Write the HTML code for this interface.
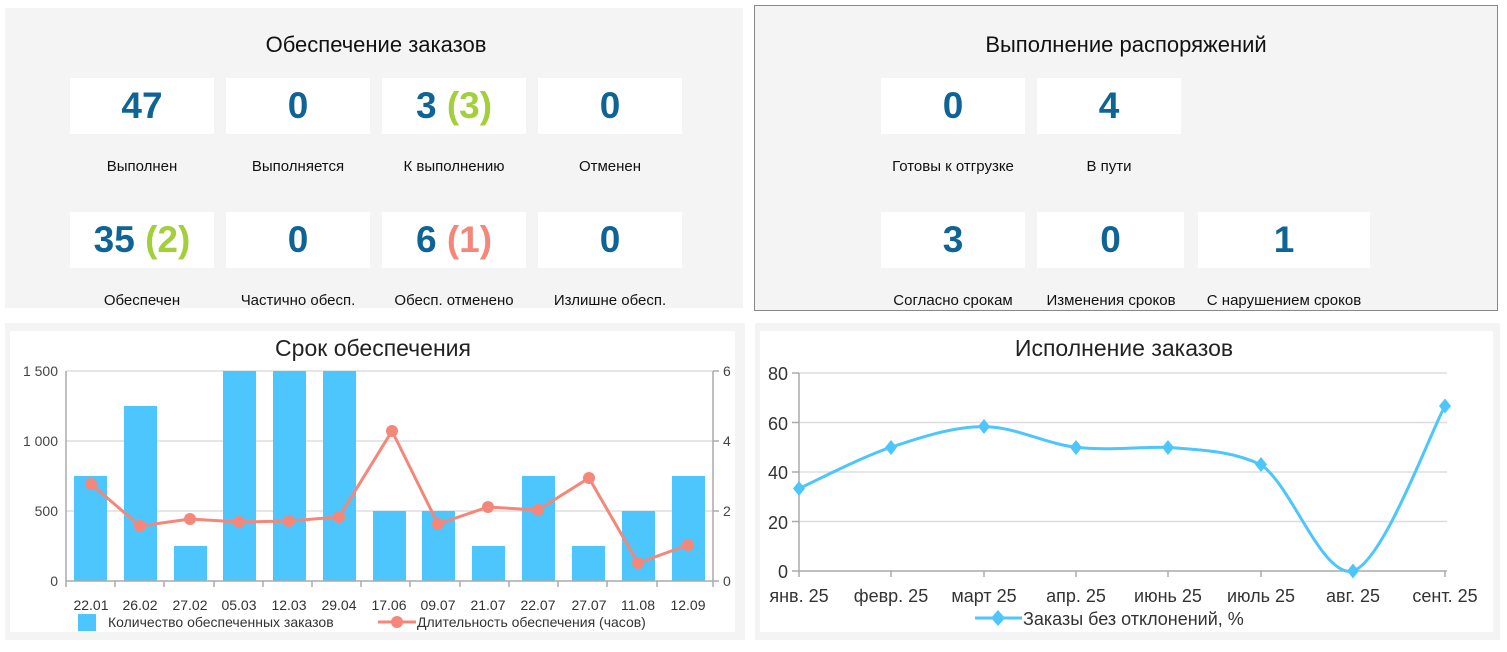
<!DOCTYPE html>
<html><head><meta charset="utf-8"><style>
body{margin:0;width:1507px;height:652px;background:#fff;font-family:"Liberation Sans",Arial,sans-serif;position:relative;overflow:hidden}
.p{position:absolute;background:#f4f4f4}
.t{position:absolute;font-size:22px;color:#111;text-align:center}
.b{position:absolute;background:#fff;width:144px;height:56px;text-align:center;line-height:56px;font-weight:bold;font-size:37px;color:#0f6496}
.l{position:absolute;width:170px;text-align:center;font-size:15px;color:#111}
.g{color:#a2cf3a}.r{color:#f4877a}
</style></head><body>
<div class="p" style="left:5px;top:8px;width:738px;height:300px"></div>
<div class="t" style="left:5px;top:32px;width:742px">Обеспечение заказов</div>
<div class="b" style="left:70px;top:78px">47</div>
<div class="b" style="left:226px;top:78px">0</div>
<div class="b" style="left:382px;top:78px">3 <span class="g">(3)</span></div>
<div class="b" style="left:538px;top:78px">0</div>
<div class="l" style="left:57px;top:158px">Выполнен</div>
<div class="l" style="left:213px;top:158px">Выполняется</div>
<div class="l" style="left:369px;top:158px">К выполнению</div>
<div class="l" style="left:525px;top:158px">Отменен</div>
<div class="b" style="left:70px;top:212px">35 <span class="g">(2)</span></div>
<div class="b" style="left:226px;top:212px">0</div>
<div class="b" style="left:382px;top:212px">6 <span class="r">(1)</span></div>
<div class="b" style="left:538px;top:212px">0</div>
<div class="l" style="left:57px;top:292px">Обеспечен</div>
<div class="l" style="left:213px;top:292px">Частично обесп.</div>
<div class="l" style="left:369px;top:292px">Обесп. отменено</div>
<div class="l" style="left:525px;top:292px">Излишне обесп.</div>

<div class="p" style="left:754px;top:5px;width:742px;height:304px;border:1px solid #888"></div>
<div class="t" style="left:754px;top:32px;width:744px">Выполнение распоряжений</div>
<div class="b" style="left:881px;top:78px">0</div>
<div class="b" style="left:1037px;top:78px">4</div>
<div class="l" style="left:868px;top:158px">Готовы к отгрузке</div>
<div class="l" style="left:1024px;top:158px">В пути</div>
<div class="b" style="left:881px;top:212px">3</div>
<div class="b" style="left:1037px;top:212px;width:147px">0</div>
<div class="b" style="left:1198px;top:212px;width:172px">1</div>
<div class="l" style="left:868px;top:292px">Согласно срокам</div>
<div class="l" style="left:1026px;top:292px">Изменения сроков</div>
<div class="l" style="left:1199px;top:292px">С нарушением сроков</div>

<div class="p" style="left:5px;top:323px;width:740px;height:317px"></div>
<div style="position:absolute;left:10px;top:331px;width:725px;height:301px;background:#fff"></div>
<div class="p" style="left:755px;top:323px;width:745px;height:317px"></div>
<div style="position:absolute;left:760px;top:331px;width:733px;height:301px;background:#fff"></div>

<svg width="1507" height="652" style="position:absolute;left:0;top:0" font-family="Liberation Sans, Arial, sans-serif">
<text x="373" y="356" font-size="23" text-anchor="middle" fill="#222">Срок обеспечения</text>
<g stroke="#ddd" stroke-width="1.5">
<line x1="66" y1="371" x2="713" y2="371"/><line x1="66" y1="441" x2="713" y2="441"/><line x1="66" y1="511" x2="713" y2="511"/>
</g>
<g fill="#4cc6fc">
<rect x="74" y="476" width="33" height="105"/><rect x="124" y="406" width="33" height="175"/><rect x="174" y="546" width="33" height="35"/>
<rect x="223" y="371" width="33" height="210"/><rect x="273" y="371" width="33" height="210"/><rect x="323" y="371" width="33" height="210"/>
<rect x="373" y="511" width="33" height="70"/><rect x="422" y="511" width="33" height="70"/><rect x="472" y="546" width="33" height="35"/>
<rect x="522" y="476" width="33" height="105"/><rect x="572" y="546" width="33" height="35"/><rect x="622" y="511" width="33" height="70"/>
<rect x="672" y="476" width="33" height="105"/>
</g>
<g stroke="#aaa" stroke-width="1.5"><line x1="66" y1="371" x2="66" y2="587"/><line x1="66" y1="581" x2="713" y2="581"/><line x1="713" y1="371" x2="713" y2="587"/>
<line x1="115" y1="581" x2="115" y2="587"/><line x1="164" y1="581" x2="164" y2="587"/><line x1="214" y1="581" x2="214" y2="587"/><line x1="263" y1="581" x2="263" y2="587"/><line x1="312" y1="581" x2="312" y2="587"/><line x1="361" y1="581" x2="361" y2="587"/><line x1="410" y1="581" x2="410" y2="587"/><line x1="460" y1="581" x2="460" y2="587"/><line x1="509" y1="581" x2="509" y2="587"/><line x1="558" y1="581" x2="558" y2="587"/><line x1="607" y1="581" x2="607" y2="587"/><line x1="657" y1="581" x2="657" y2="587"/>
<line x1="713" y1="371" x2="719" y2="371"/><line x1="713" y1="441" x2="719" y2="441"/><line x1="713" y1="511" x2="719" y2="511"/><line x1="713" y1="581" x2="719" y2="581"/>
</g>
<g font-size="14" fill="#444" text-anchor="end"><text x="58" y="376">1 500</text><text x="58" y="446">1 000</text><text x="58" y="516">500</text><text x="58" y="586">0</text></g>
<g font-size="14" fill="#444"><text x="723" y="376">6</text><text x="723" y="446">4</text><text x="723" y="516">2</text><text x="723" y="586">0</text></g>
<polyline fill="none" stroke="#f4877a" stroke-width="3" points="91,484 140,526 190,519 239,522 289,521 339,517 392,431 438,524 488,507 538,510 589,478 638,563 688,545"/>
<g fill="#f4877a"><circle cx="91" cy="484" r="6"/><circle cx="140" cy="526" r="6"/><circle cx="190" cy="519" r="6"/><circle cx="239" cy="522" r="6"/><circle cx="289" cy="521" r="6"/><circle cx="339" cy="517" r="6"/><circle cx="392" cy="431" r="6"/><circle cx="438" cy="524" r="6"/><circle cx="488" cy="507" r="6"/><circle cx="538" cy="510" r="6"/><circle cx="589" cy="478" r="6"/><circle cx="638" cy="563" r="6"/><circle cx="688" cy="545" r="6"/></g>
<g font-size="14" fill="#333" text-anchor="middle"><text x="91" y="610">22.01</text><text x="140" y="610">26.02</text><text x="190" y="610">27.02</text><text x="239" y="610">05.03</text><text x="289" y="610">12.03</text><text x="339" y="610">29.04</text><text x="389" y="610">17.06</text><text x="438" y="610">09.07</text><text x="488" y="610">21.07</text><text x="538" y="610">22.07</text><text x="589" y="610">27.07</text><text x="638" y="610">11.08</text><text x="688" y="610">12.09</text></g>
<rect x="78" y="614" width="18" height="17" fill="#4cc6fc"/>
<text x="108" y="627" font-size="14" fill="#333">Количество обеспеченных заказов</text>
<line x1="378" y1="622" x2="416" y2="622" stroke="#f4877a" stroke-width="3"/><circle cx="397" cy="622" r="6" fill="#f4877a"/>
<text x="417" y="627" font-size="14" fill="#333">Длительность обеспечения (часов)</text>

<text x="1124" y="356" font-size="23" text-anchor="middle" fill="#222">Исполнение заказов</text>
<g stroke="#ddd" stroke-width="1.5"><line x1="799" y1="373" x2="1447" y2="373"/><line x1="799" y1="422.5" x2="1447" y2="422.5"/><line x1="799" y1="472" x2="1447" y2="472"/><line x1="799" y1="521.5" x2="1447" y2="521.5"/></g>
<g stroke="#aaa" stroke-width="1.5"><line x1="799" y1="373" x2="799" y2="577"/><line x1="792" y1="571" x2="1447" y2="571"/>
<line x1="891" y1="571" x2="891" y2="577"/><line x1="984" y1="571" x2="984" y2="577"/><line x1="1076" y1="571" x2="1076" y2="577"/><line x1="1168" y1="571" x2="1168" y2="577"/><line x1="1261" y1="571" x2="1261" y2="577"/><line x1="1353" y1="571" x2="1353" y2="577"/><line x1="1445" y1="571" x2="1445" y2="577"/>
<line x1="792" y1="373" x2="799" y2="373"/><line x1="792" y1="422.5" x2="799" y2="422.5"/><line x1="792" y1="472" x2="799" y2="472"/><line x1="792" y1="521.5" x2="799" y2="521.5"/></g>
<g font-size="18" fill="#333" text-anchor="end"><text x="788" y="380">80</text><text x="788" y="430">60</text><text x="788" y="479">40</text><text x="788" y="529">20</text><text x="788" y="578">0</text></g>
<path fill="none" stroke="#4cc6fc" stroke-width="3" d="M799,488.5 C814.3,481.6 860.2,457.6 891,447.25 C921.8,436.9 953.2,426.6 984,426.6 C1014.8,426.6 1045.3,443.8 1076,447.25 C1106.7,450.7 1137.2,447 1168,447.25 C1198.8,450.2 1230.2,450 1261,464.8 C1291.8,485.4 1322.3,578 1353,571 C1383.7,561.2 1429.7,433.5 1445,406"/>
<g fill="#4cc6fc">
<path d="M799,481l6,7.5l-6,7.5l-6,-7.5z"/><path d="M891,440l6,7.5l-6,7.5l-6,-7.5z"/><path d="M984,419l6,7.5l-6,7.5l-6,-7.5z"/><path d="M1076,440l6,7.5l-6,7.5l-6,-7.5z"/><path d="M1168,440l6,7.5l-6,7.5l-6,-7.5z"/><path d="M1261,457l6,7.5l-6,7.5l-6,-7.5z"/><path d="M1353,563.5l6,7.5l-6,7.5l-6,-7.5z"/><path d="M1445,398.5l6,7.5l-6,7.5l-6,-7.5z"/>
</g>
<g font-size="18" fill="#333" text-anchor="middle"><text x="799" y="602">янв. 25</text><text x="891" y="602">февр. 25</text><text x="984" y="602">март 25</text><text x="1076" y="602">апр. 25</text><text x="1168" y="602">июнь 25</text><text x="1261" y="602">июль 25</text><text x="1353" y="602">авг. 25</text><text x="1445" y="602">сент. 25</text></g>
<line x1="975" y1="618" x2="1022" y2="618" stroke="#4cc6fc" stroke-width="3"/><path d="M998,610l7,8l-7,8l-7,-8z" fill="#4cc6fc"/>
<text x="1023" y="625" font-size="18" fill="#333">Заказы без отклонений, %</text>
</svg>
</body></html>
